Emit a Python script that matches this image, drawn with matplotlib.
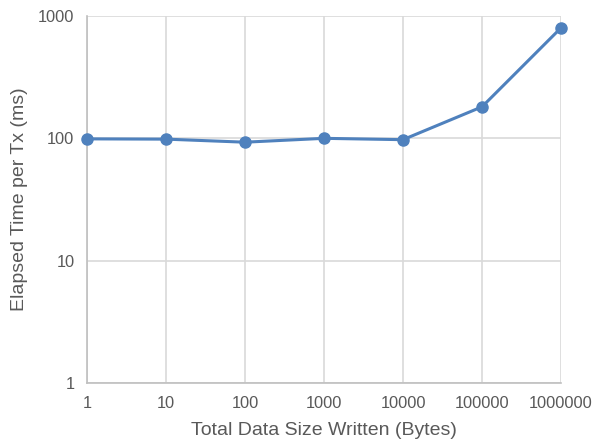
import matplotlib
matplotlib.use("Agg")
import matplotlib.pyplot as plt
from matplotlib.ticker import FixedLocator, FixedFormatter, NullLocator

plt.rcParams['font.family'] = ['Liberation Sans', 'DejaVu Sans']

sizes = [1, 10, 100, 1000, 10000, 100000, 1000000]
elapsed_ms = [99, 98.5, 93, 100, 97.5, 181, 800]
x_labels = ["1", "10", "100", "1000", "10000", "100000", "1000000"]
y_ticks = [1, 10, 100, 1000]
y_labels = ["1", "10", "100", "1000"]

fig = plt.figure(figsize=(5.98, 4.43), dpi=100)
ax = fig.add_axes([87/598, 60/443, 474/598, 367/443])
ax.set_xscale('log')
ax.set_yscale('log')
ax.set_xlim(1, 1e6)
ax.set_ylim(1, 1000)

ax.plot(sizes, elapsed_ms, color='#4F81BD', linewidth=2.2, marker='o',
        markersize=8, zorder=3, clip_on=False)

ax.xaxis.set_major_locator(FixedLocator(sizes))
ax.xaxis.set_major_formatter(FixedFormatter(x_labels))
ax.xaxis.set_minor_locator(NullLocator())
ax.yaxis.set_major_locator(FixedLocator(y_ticks))
ax.yaxis.set_major_formatter(FixedFormatter(y_labels))
ax.yaxis.set_minor_locator(NullLocator())

ax.grid(True, color='#D9D9D9', linewidth=1.2, zorder=0)
for s in ['top', 'right']:
    ax.spines[s].set_visible(False)
for s in ['left', 'bottom']:
    ax.spines[s].set_color('#BFBFBF')
    ax.spines[s].set_linewidth(1.2)
ax.tick_params(length=0, labelsize=11.8, colors='#595959', pad=9)

ax.set_xlabel("Total Data Size Written (Bytes)", fontsize=14, color='#595959', labelpad=8)
ax.set_ylabel("Elapsed Time per Tx (ms)", fontsize=14, color='#595959', labelpad=7)

fig.savefig("out.png", dpi=100)
